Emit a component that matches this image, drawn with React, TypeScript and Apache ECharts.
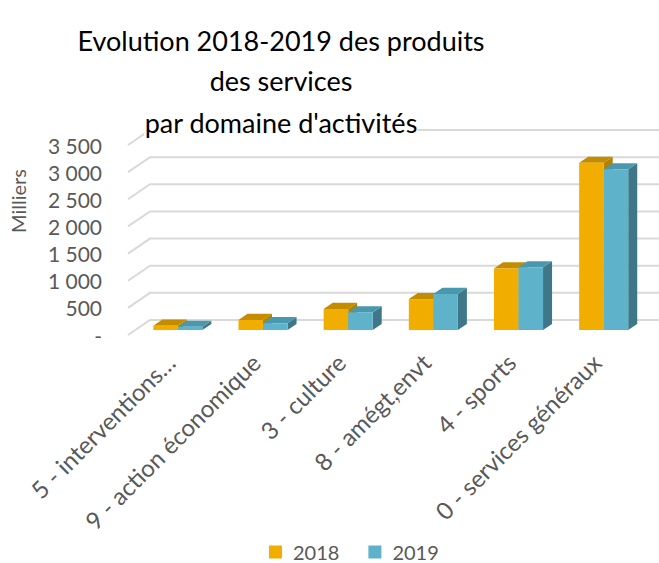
import React, { useEffect, useRef } from "react";
import * as echarts from "echarts";

const categories = [
  "5 - interventions…",
  "9 - action économique",
  "3 - culture",
  "8 - amégt,envt",
  "4 - sports",
  "0 - services généraux",
];
const values2018 = [80, 185, 390, 570, 1135, 3080];
const values2019 = [60, 125, 325, 665, 1155, 2960];
const yTicks = [0, 500, 1000, 1500, 2000, 2500, 3000, 3500];
const seriesNames = ["2018", "2019"];
const titleLines = [
  "Evolution 2018-2019 des produits",
  "des services",
  "par domaine d'activités",
];

const FONT = "Lato, 'Open Sans', sans-serif";
const DX = 22;
const DY = -15;
const BAR_START = 0.33;
const BAR_DEPTH = 0.41;

const palette = [
  { front: "#F1AD00", top: "#C48C00", side: "#B58200" },
  { front: "#5EB3CA", top: "#4A98AD", side: "#3E7888" },
];

function fmt(v: number) {
  if (v === 0) return "-";
  const s = String(v);
  return s.length > 3 ? s.slice(0, s.length - 3) + " " + s.slice(-3) : s;
}

function barRender(s: number) {
  return (params: any, api: any) => {
    const i = api.value(0);
    const v = api.value(1);
    const base = api.coord([i, 0]);
    const top = api.coord([i, v]);
    const band = api.size([1, 0])[0];
    const barW = band * 0.288;
    const ox = DX * BAR_START;
    const oy = DY * BAR_START;
    const x0 = base[0] + ox + (s === 0 ? -barW : 0);
    const x1 = x0 + barW;
    const yb = base[1] + oy;
    const yt = top[1] + oy;
    const bx = DX * BAR_DEPTH;
    const by = DY * BAR_DEPTH;
    const c = palette[s];
    return {
      type: "group",
      children: [
        {
          type: "polygon",
          shape: { points: [[x1, yb], [x1, yt], [x1 + bx, yt + by], [x1 + bx, yb + by]] },
          style: { fill: c.side },
        },
        {
          type: "polygon",
          shape: { points: [[x0, yt], [x1, yt], [x1 + bx, yt + by], [x0 + bx, yt + by]] },
          style: { fill: c.top },
        },
        {
          type: "rect",
          shape: { x: x0, y: yt, width: barW, height: yb - yt },
          style: { fill: c.front },
        },
      ],
    };
  };
}

export default function App() {
  const ref = useRef<HTMLDivElement>(null);
  useEffect(() => {
    if (!ref.current) return;
    const chart = echarts.init(ref.current, null, { renderer: "svg" });
    const option: any = {
      animation: false,
      backgroundColor: "#ffffff",
      grid: { left: 128, top: 145, width: 511, height: 190 },
      xAxis: {
        type: "category",
        data: categories,
        axisLine: { show: false },
        axisTick: { show: false },
        splitLine: { show: false },
        axisLabel: {
          interval: 0,
          rotate: 45,
          margin: 23,
          fontFamily: FONT,
          fontSize: 24,
          color: "#595959",
        },
      },
      yAxis: {
        type: "value",
        min: 0,
        max: 3500,
        interval: 500,
        axisLine: { show: false },
        axisTick: { show: false },
        splitLine: { show: false },
        axisLabel: {
          margin: 26,
          fontFamily: FONT,
          fontSize: 21,
          color: "#595959",
          formatter: (v: number) => fmt(v),
        },
      },
      legend: {
        data: seriesNames,
        left: 264,
        top: 537,
        icon: "rect",
        itemWidth: 13,
        itemHeight: 13,
        itemGap: 29,
        textStyle: {
          fontFamily: FONT,
          fontSize: 20,
          lineHeight: 20,
          color: "#595959",
          padding: [0, 0, 0, 6],
        },
      },
      graphic: [
        ...titleLines.map((t, k) => ({
          type: "text",
          x: 281,
          y: [40, 80, 122][k],
          z: 100,
          style: {
            text: t,
            fontFamily: FONT,
            fontSize: 27,
            fill: "#000000",
            align: "center",
            verticalAlign: "middle",
            backgroundColor: "#ffffff",
          },
        })),
        {
          type: "text",
          x: 18,
          y: 201,
          rotation: Math.PI / 2,
          z: 100,
          style: {
            text: "Milliers",
            fontFamily: FONT,
            fontSize: 20,
            fill: "#595959",
            align: "center",
            verticalAlign: "middle",
          },
        },
      ],
      series: [
        {
          type: "custom",
          name: "grid3d",
          silent: true,
          z: 1,
          data: yTicks.map((v) => [0, v]),
          renderItem: (params: any, api: any) => {
            const cs = params.coordSys;
            const p = api.coord([0, api.value(1)]);
            const y = p[1];
            return {
              type: "polyline",
              shape: {
                points: [
                  [cs.x, y],
                  [cs.x + DX, y + DY],
                  [cs.x + cs.width + DX, y + DY],
                ],
              },
              style: { stroke: "#d9d9d9", lineWidth: 2, fill: null },
            };
          },
        },
        {
          type: "custom",
          name: seriesNames[0],
          z: 2,
          itemStyle: { color: palette[0].front },
          data: values2018.map((v, i) => [i, v]),
          renderItem: barRender(0),
        },
        {
          type: "custom",
          name: seriesNames[1],
          z: 3,
          itemStyle: { color: palette[1].front },
          data: values2019.map((v, i) => [i, v]),
          renderItem: barRender(1),
        },
      ],
    };
    chart.setOption(option);
    return () => chart.dispose();
  }, []);
  return (
    <div
      ref={ref}
      style={{ position: "fixed", left: 0, top: 0, width: 659, height: 563, background: "#fff" }}
    />
  );
}
